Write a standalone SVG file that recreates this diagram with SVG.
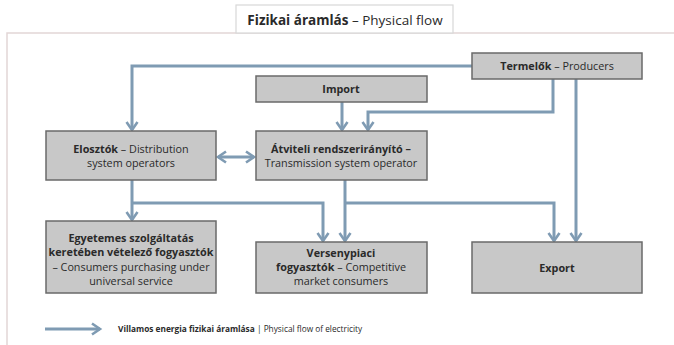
<svg xmlns="http://www.w3.org/2000/svg" width="674" height="345" viewBox="0 0 674 345">
<defs>
<style>
.frame{fill:none;stroke:#e2d6d6;stroke-width:1.5}
.node{fill:#c8c8c8;stroke:#6a6a6a;stroke-width:1.5}
.t{font-family:"Open Sans","Noto Sans",sans-serif;font-size:10.8px;fill:#2a2a2a;text-anchor:middle}
.b{font-weight:bold}
.c{fill:none;stroke:#7f9bb3;stroke-width:3;stroke-linejoin:miter}
</style>
<marker id="ah" viewBox="0 0 14 14" refX="11" refY="7" markerWidth="14" markerHeight="14" markerUnits="userSpaceOnUse" orient="auto-start-reverse">
<path d="M3,1.5 L11,7 L3,12.5" fill="none" stroke="#7f9bb3" stroke-width="2.6"/>
</marker>
</defs>
<rect width="674" height="345" fill="#ffffff"/>
<path class="frame" d="M7,345 V33 H674"/>
<g id="title">
<rect x="236" y="5" width="217" height="28" fill="#ffffff" stroke="#d8d8d8" stroke-width="1.2"/>
<text x="345" y="24.5" class="t" style="font-size:13.5px"><tspan class="b">Fizikai áramlás</tspan> – Physical flow</text>
</g>
<g id="connectors">
<path class="c" d="M472,66 H132 V130" marker-end="url(#ah)"/>
<path class="c" d="M553,79 V112 H368 V130" marker-end="url(#ah)"/>
<path class="c" d="M342,102 V130" marker-end="url(#ah)"/>
<path class="c" d="M576,79 V241" marker-end="url(#ah)"/>
<path class="c" d="M218,157 H254" marker-start="url(#ah)" marker-end="url(#ah)"/>
<path class="c" d="M132,180 V220" marker-end="url(#ah)"/>
<path class="c" d="M132,203 H323 V241" marker-end="url(#ah)"/>
<path class="c" d="M345,180 V241" marker-end="url(#ah)"/>
<path class="c" d="M345,203 H554 V241" marker-end="url(#ah)"/>
<path class="c" d="M45,329 H100" marker-end="url(#ah)"/>
</g>
<g id="termelok">
<rect class="node" x="472" y="53" width="170" height="26"/>
<text class="t" x="557" y="70"><tspan class="b">Termelők</tspan> – Producers</text>
</g>
<g id="import">
<rect class="node" x="256" y="76" width="171" height="26"/>
<text class="t b" x="341" y="93">Import</text>
</g>
<g id="elosztok">
<rect class="node" x="46" y="131" width="170" height="49"/>
<text class="t" x="131" y="152.5"><tspan class="b">Elosztók</tspan> – Distribution</text>
<text class="t" x="131" y="166.5">system operators</text>
</g>
<g id="atviteli">
<rect class="node" x="256" y="131" width="171" height="49"/>
<text class="t b" x="341" y="152.5">Átviteli rendszerirányító –</text>
<text class="t" x="341" y="166.5">Transmission system operator</text>
</g>
<g id="egyetemes">
<rect class="node" x="46" y="221" width="170" height="72"/>
<text class="t b" x="131" y="241.5">Egyetemes szolgáltatás</text>
<text class="t b" x="131" y="256">keretében vételező fogyasztók</text>
<text class="t" x="131" y="270.5">– Consumers purchasing under</text>
<text class="t" x="131" y="285">universal service</text>
</g>
<g id="versenypiaci">
<rect class="node" x="256" y="242" width="171" height="51"/>
<text class="t b" x="341" y="257">Versenypiaci</text>
<text class="t" x="341" y="271"><tspan class="b">fogyasztók</tspan> – Competitive</text>
<text class="t" x="341" y="285">market consumers</text>
</g>
<g id="export">
<rect class="node" x="472" y="242" width="170" height="51"/>
<text class="t b" x="557" y="271.5">Export</text>
</g>
<g id="legend">
<text class="t" x="118" y="332" style="font-size:8.3px;text-anchor:start"><tspan class="b">Villamos energia fizikai áramlása</tspan> | Physical flow of electricity</text>
</g>
</svg>
